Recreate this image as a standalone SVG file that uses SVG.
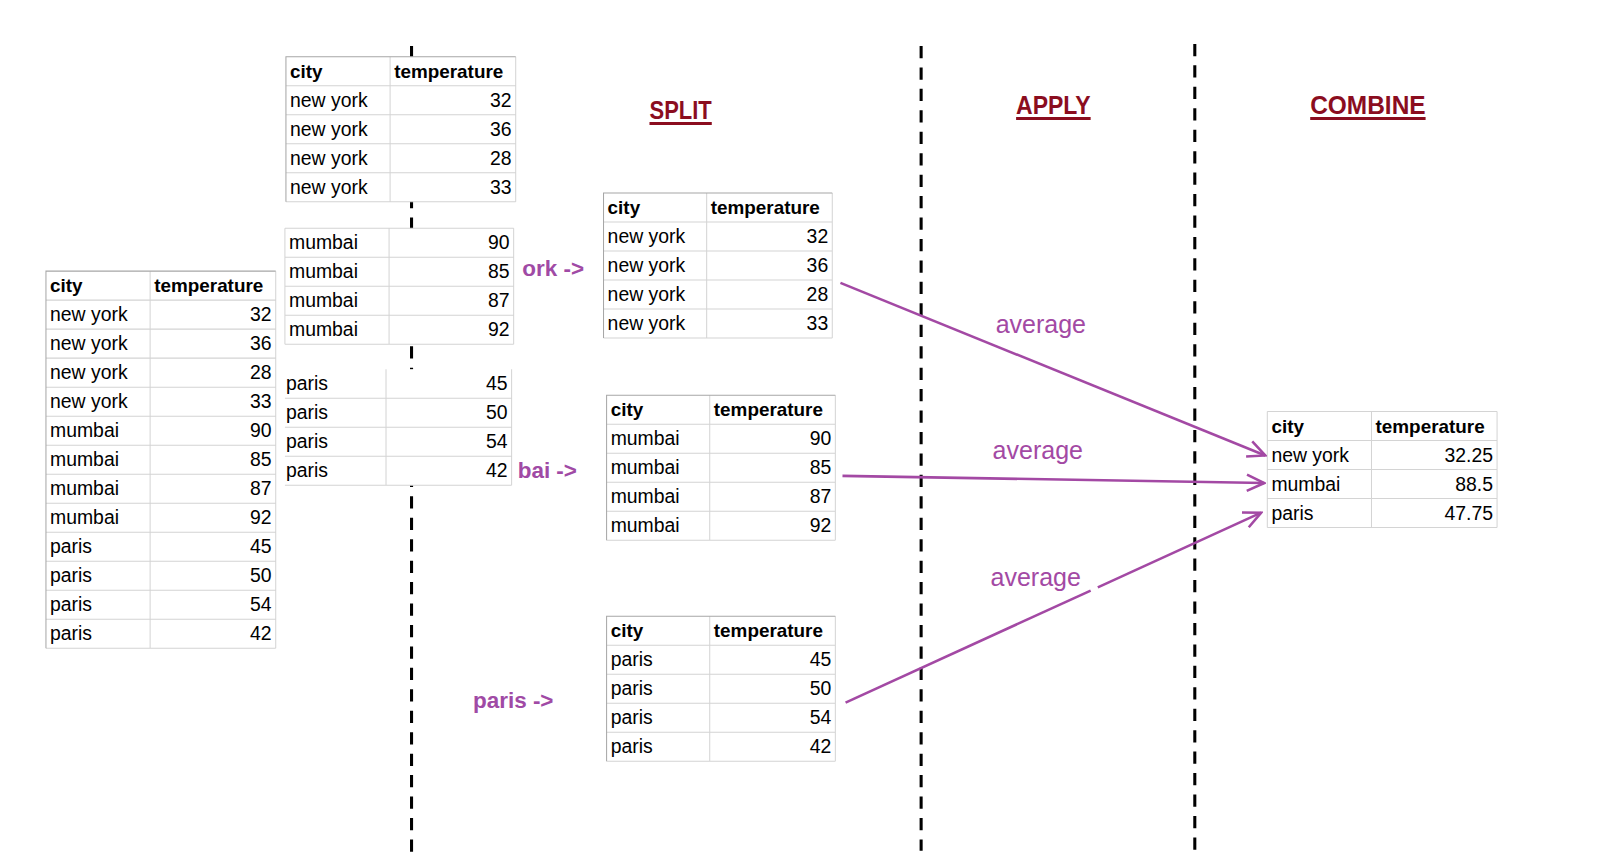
<svg xmlns="http://www.w3.org/2000/svg" width="1601" height="868" viewBox="0 0 1601 868">
<style>
.bg{fill:#fff}
.g{stroke:#d4d4d4;stroke-width:1;fill:none}
.d{stroke:#a6a6a6;stroke-width:1;fill:none}
.t{font-family:"Liberation Sans",Arial,sans-serif;font-size:19px;fill:#000}
.h{font-weight:bold;font-size:18.5px}
.n{text-anchor:end}
.dash{stroke:#000;stroke-width:3;stroke-dasharray:12 9;fill:none}
.lab{font-family:"Liberation Sans",Arial,sans-serif;font-size:22px;font-weight:bold;fill:#a04aa5;text-anchor:end}
.avg{font-family:"Liberation Sans",Arial,sans-serif;font-size:24.5px;fill:#a349a4}
.con{stroke:#a349a4;stroke-width:2.5;fill:none}
.ttl{font-family:"Liberation Sans",Arial,sans-serif;font-size:25px;font-weight:bold;fill:#8b0d1f}
.ul{stroke:#8b0d1f;stroke-width:3}
</style>
<defs>
<marker id="arr" markerUnits="userSpaceOnUse" markerWidth="22" markerHeight="22" viewBox="0 0 22 22" refX="20" refY="11" orient="auto">
<path d="M3,3 L20,11 L3,19" fill="none" stroke="#a349a4" stroke-width="2.5"/>
</marker>
</defs>
<rect width="1601" height="868" fill="#fff"/>
<g transform="scale(1.0212)">

<g id="dividers">
<line class="dash" x1="403" y1="45" x2="403" y2="835"/>
<line class="dash" x1="902" y1="45" x2="902" y2="833"/>
<line class="dash" x1="1170" y1="43" x2="1170" y2="832"/>
</g>

<g id="labels">
<text class="lab" x="572" y="270">ork -&gt;</text>
<text class="lab" x="565" y="468">bai -&gt;</text>
<text class="lab" x="542" y="693">paris -&gt;</text>
</g>

<g id="table-original">
<rect class="bg" x="45" y="265.5" width="225" height="369.2"/>
<path class="g" d="M45,293.9H270M45,322.3H270M45,350.7H270M45,379.1H270M45,407.5H270M45,435.9H270M45,464.3H270M45,492.7H270M45,521.1H270M45,549.5H270M45,577.9H270M45,606.3H270M45,634.7H270M147,265.5V634.7M270,265.5V634.7"/>
<path class="d" d="M45,634.7V265.5H270"/>
<g class="t">
<text class="h" x="49" y="286.2">city</text><text class="h" x="151" y="286.2">temperature</text>
<text x="49" y="314.6">new york</text><text class="n" x="266" y="314.6">32</text>
<text x="49" y="343">new york</text><text class="n" x="266" y="343">36</text>
<text x="49" y="371.4">new york</text><text class="n" x="266" y="371.4">28</text>
<text x="49" y="399.8">new york</text><text class="n" x="266" y="399.8">33</text>
<text x="49" y="428.2">mumbai</text><text class="n" x="266" y="428.2">90</text>
<text x="49" y="456.6">mumbai</text><text class="n" x="266" y="456.6">85</text>
<text x="49" y="485">mumbai</text><text class="n" x="266" y="485">87</text>
<text x="49" y="513.4">mumbai</text><text class="n" x="266" y="513.4">92</text>
<text x="49" y="541.8">paris</text><text class="n" x="266" y="541.8">45</text>
<text x="49" y="570.2">paris</text><text class="n" x="266" y="570.2">50</text>
<text x="49" y="598.6">paris</text><text class="n" x="266" y="598.6">54</text>
<text x="49" y="627">paris</text><text class="n" x="266" y="627">42</text>
</g>
</g>

<g id="split-newyork">
<rect class="bg" x="280" y="55.5" width="225" height="142"/>
<path class="g" d="M280,83.9H505M280,112.3H505M280,140.7H505M280,169.1H505M280,197.5H505M382,55.5V197.5M505,55.5V197.5"/>
<path class="d" d="M280,197.5V55.5H505"/>
<g class="t">
<text class="h" x="284" y="76.2">city</text><text class="h" x="386" y="76.2">temperature</text>
<text x="284" y="104.6">new york</text><text class="n" x="501" y="104.6">32</text>
<text x="284" y="133">new york</text><text class="n" x="501" y="133">36</text>
<text x="284" y="161.4">new york</text><text class="n" x="501" y="161.4">28</text>
<text x="284" y="189.8">new york</text><text class="n" x="501" y="189.8">33</text>
</g>
</g>

<g id="split-mumbai">
<rect class="bg" x="279" y="223.5" width="224" height="113.6"/>
<path class="g" d="M279,223.5H503M279,251.9H503M279,280.3H503M279,308.7H503M279,337.1H503M381,223.5V337.1M503,223.5V337.1M279,223.5V337.1"/>
<g class="t">
<text x="283" y="244.2">mumbai</text><text class="n" x="499" y="244.2">90</text>
<text x="283" y="272.6">mumbai</text><text class="n" x="499" y="272.6">85</text>
<text x="283" y="301">mumbai</text><text class="n" x="499" y="301">87</text>
<text x="283" y="329.4">mumbai</text><text class="n" x="499" y="329.4">92</text>
</g>
</g>

<g id="split-paris">
<rect class="bg" x="279" y="361.5" width="222" height="113.6"/>
<path class="g" d="M279,389.9H501M279,418.3H501M279,446.7H501M279,475.1H501M378,361.5V475.1M501,361.5V475.1"/>
<g class="t">
<text x="280" y="382.2">paris</text><text class="n" x="497" y="382.2">45</text>
<text x="280" y="410.6">paris</text><text class="n" x="497" y="410.6">50</text>
<text x="280" y="439">paris</text><text class="n" x="497" y="439">54</text>
<text x="280" y="467.4">paris</text><text class="n" x="497" y="467.4">42</text>
</g>
</g>

<g id="group-newyork">
<rect class="bg" x="591" y="189" width="224" height="142"/>
<path class="g" d="M591,217.4H815M591,245.8H815M591,274.2H815M591,302.6H815M591,331H815M692,189V331M815,189V331"/>
<path class="d" d="M591,331V189H815"/>
<g class="t">
<text class="h" x="595" y="209.7">city</text><text class="h" x="696" y="209.7">temperature</text>
<text x="595" y="238.1">new york</text><text class="n" x="811" y="238.1">32</text>
<text x="595" y="266.5">new york</text><text class="n" x="811" y="266.5">36</text>
<text x="595" y="294.9">new york</text><text class="n" x="811" y="294.9">28</text>
<text x="595" y="323.3">new york</text><text class="n" x="811" y="323.3">33</text>
</g>
</g>

<g id="group-mumbai">
<rect class="bg" x="594" y="387" width="224" height="142"/>
<path class="g" d="M594,415.4H818M594,443.8H818M594,472.2H818M594,500.6H818M594,529H818M695,387V529M818,387V529"/>
<path class="d" d="M594,529V387H818"/>
<g class="t">
<text class="h" x="598" y="407.7">city</text><text class="h" x="699" y="407.7">temperature</text>
<text x="598" y="436.1">mumbai</text><text class="n" x="814" y="436.1">90</text>
<text x="598" y="464.5">mumbai</text><text class="n" x="814" y="464.5">85</text>
<text x="598" y="492.9">mumbai</text><text class="n" x="814" y="492.9">87</text>
<text x="598" y="521.3">mumbai</text><text class="n" x="814" y="521.3">92</text>
</g>
</g>

<g id="group-paris">
<rect class="bg" x="594" y="603.5" width="224" height="142"/>
<path class="g" d="M594,631.9H818M594,660.3H818M594,688.7H818M594,717.1H818M594,745.5H818M695,603.5V745.5M818,603.5V745.5"/>
<path class="d" d="M594,745.5V603.5H818"/>
<g class="t">
<text class="h" x="598" y="624.2">city</text><text class="h" x="699" y="624.2">temperature</text>
<text x="598" y="652.6">paris</text><text class="n" x="814" y="652.6">45</text>
<text x="598" y="681">paris</text><text class="n" x="814" y="681">50</text>
<text x="598" y="709.4">paris</text><text class="n" x="814" y="709.4">54</text>
<text x="598" y="737.8">paris</text><text class="n" x="814" y="737.8">42</text>
</g>
</g>

<g id="combined">
<rect class="bg" x="1241" y="403" width="225" height="113.6"/>
<path class="g" d="M1241,403H1466M1241,431.4H1466M1241,459.8H1466M1241,488.2H1466M1241,516.6H1466M1241,403V516.6M1343,403V516.6M1466,403V516.6"/>
<g class="t">
<text class="h" x="1245" y="423.7">city</text><text class="h" x="1347" y="423.7">temperature</text>
<text x="1245" y="452.1">new york</text><text class="n" x="1462" y="452.1">32.25</text>
<text x="1245" y="480.5">mumbai</text><text class="n" x="1462" y="480.5">88.5</text>
<text x="1245" y="508.9">paris</text><text class="n" x="1462" y="508.9">47.75</text>
</g>
</g>

<g id="connectors">
<line class="con" x1="823" y1="277" x2="1239" y2="446" marker-end="url(#arr)"/>
<line class="con" x1="825" y1="466" x2="1238" y2="473" marker-end="url(#arr)"/>
<line class="con" x1="828" y1="688" x2="1068" y2="578.3"/>
<line class="con" x1="1075" y1="575.1" x2="1235" y2="502" marker-end="url(#arr)"/>
<text class="avg" x="975" y="326.5">average</text>
<text class="avg" x="972" y="449.5">average</text>
<text class="avg" x="970" y="573.5">average</text>
</g>

<g id="titles">
<text class="ttl" x="636" y="117" textLength="61" lengthAdjust="spacingAndGlyphs">SPLIT</text>
<line class="ul" x1="636" y1="121" x2="697" y2="121"/>
<text class="ttl" x="995" y="112" textLength="73" lengthAdjust="spacingAndGlyphs">APPLY</text>
<line class="ul" x1="995" y1="116" x2="1068" y2="116"/>
<text class="ttl" x="1283" y="112" textLength="113" lengthAdjust="spacingAndGlyphs">COMBINE</text>
<line class="ul" x1="1283" y1="116" x2="1396" y2="116"/>
</g>
</g>
</svg>
